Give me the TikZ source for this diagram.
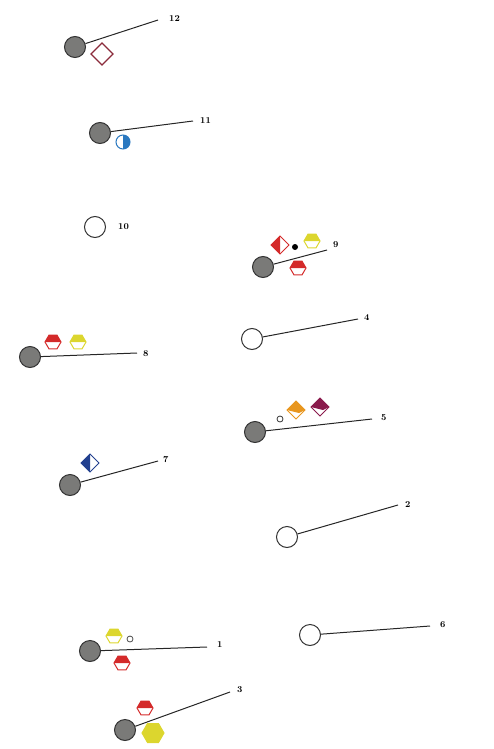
\documentclass[tikz,border=0pt]{standalone}
\usetikzlibrary{calc}
\definecolor{dotgray}{HTML}{7A7A78}
\definecolor{mred}{HTML}{D42A2A}
\definecolor{myel}{HTML}{DCD62E}
\definecolor{mblue}{HTML}{2A78C0}
\definecolor{dblue}{HTML}{22408F}
\definecolor{morange}{HTML}{E8961E}
\definecolor{mpurp}{HTML}{8A1A4C}
\definecolor{dred}{HTML}{8B2B3B}
\tikzset{
  graydot/.style={circle,draw=black!80,fill=dotgray,line width=1pt,minimum size=21pt,inner sep=0pt},
  whitedot/.style={circle,draw=black!80,fill=white,line width=1pt,minimum size=21pt,inner sep=0pt},
  stick/.style={line width=1pt,black!85},
  lab/.style={font=\fontsize{9}{10}\selectfont\bfseries,inner sep=1pt},
  hexT/.pic={
    \fill[#1] (8,0) -- (4,-6.9) -- (-4,-6.9) -- (-8,0) -- cycle;
    \draw[#1,line width=1pt] (8,0) -- (4,-6.9) -- (-4,-6.9) -- (-8,0) -- (-4,6.9) -- (4,6.9) -- cycle;
  },
  hexFull/.pic={
    \draw[#1,line width=1pt,fill=#1] (11,0) -- (5.5,-9.5) -- (-5.5,-9.5) -- (-11,0) -- (-5.5,9.5) -- (5.5,9.5) -- cycle;
  },
  diamL/.pic={
    \fill[#1] (0,-9) -- (-9,0) -- (0,9) -- cycle;
    \draw[#1,line width=1pt] (0,-9) -- (9,0) -- (0,9) -- (-9,0) -- cycle;
  },
  diamT/.pic={
    \fill[#1] (-9,0) -- (0,-9) -- (9,0) -- (3,3) -- cycle;
    \draw[#1,line width=1pt] (0,-9) -- (9,0) -- (0,9) -- (-9,0) -- cycle;
  },
  diamO/.pic={
    \draw[#1,line width=1.1pt,fill=white] (0,-11) -- (11,0) -- (0,11) -- (-11,0) -- cycle;
  },
  circR/.pic={
    \fill[white] (0,0) circle[radius=7];
    \begin{scope}
      \clip (0,-8) rectangle (8,8);
      \fill[#1] (0,0) circle[radius=7];
    \end{scope}
    \draw[#1,line width=1pt] (0,0) circle[radius=7];
  },
}
\begin{document}
\begin{tikzpicture}[x=1pt,y=-1pt]
\useasboundingbox (0,0) rectangle (494,749);
% 12
\pic at (102,54) {diamO=dred};
\node[graydot] (c12) at (75,47) {};
\coordinate (e12) at (158,20);
\node[lab,anchor=west] (l12) at (168,19) {12};
\draw[stick] (c12) -- (e12);
% 11
\pic at (123,142) {circR=mblue};
\node[graydot] (c11) at (100,133) {};
\coordinate (e11) at (193,121);
\node[lab,anchor=west] (l11) at (199,121) {11};
\draw[stick] (c11) -- (e11);
% 10
\node[whitedot] (c10) at (95,227) {};
\node[lab,anchor=west] (l10) at (117,227) {10};
% 9
\pic at (280,245) {diamL=mred};
\node[circle,fill=black,minimum size=6pt,inner sep=0pt] (d9) at (295,247) {};
\pic at (312,241) {hexT=myel};
\pic at (298,268) {hexT=mred};
\node[graydot] (c9) at (263,267) {};
\coordinate (e9) at (327,250);
\node[lab,anchor=west] (l9) at (332,245) {9};
\draw[stick] (c9) -- (e9);
% 8
\pic at (53,342) {hexT=mred};
\pic at (78,342) {hexT=myel};
\node[graydot] (c8) at (30,357) {};
\coordinate (e8) at (137,353);
\node[lab,anchor=west] (l8) at (142,354) {8};
\draw[stick] (c8) -- (e8);
% 4
\node[whitedot] (c4) at (252,339) {};
\coordinate (e4) at (358,319);
\node[lab,anchor=west] (l4) at (363,318) {4};
\draw[stick] (c4) -- (e4);
% 5
\node[circle,draw=black!80,fill=white,line width=0.8pt,minimum size=6pt,inner sep=0pt] (s5) at (280,419) {};
\pic at (296,410) {diamT=morange};
\pic at (320,407) {diamT=mpurp};
\node[graydot] (c5) at (255,432) {};
\coordinate (e5) at (372,419);
\node[lab,anchor=west] (l5) at (380,418) {5};
\draw[stick] (c5) -- (e5);
% 7
\pic at (90,463) {diamL=dblue};
\node[graydot] (c7) at (70,485) {};
\coordinate (e7) at (158,461);
\node[lab,anchor=west] (l7) at (162,460) {7};
\draw[stick] (c7) -- (e7);
% 2
\node[whitedot] (c2) at (287,537) {};
\coordinate (e2) at (398,505);
\node[lab,anchor=west] (l2) at (404,505) {2};
\draw[stick] (c2) -- (e2);
% 6
\node[whitedot] (c6) at (310,635) {};
\coordinate (e6) at (430,626);
\node[lab,anchor=west] (l6) at (439,625) {6};
\draw[stick] (c6) -- (e6);
% 1
\pic at (114,636) {hexT=myel};
\node[circle,draw=black!70,fill=white,line width=0.8pt,minimum size=6pt,inner sep=0pt] (s1) at (130,639) {};
\pic at (122,663) {hexT=mred};
\node[graydot] (c1) at (90,651) {};
\coordinate (e1) at (207,647);
\node[lab,anchor=west] (l1) at (216,645) {1};
\draw[stick] (c1) -- (e1);
% 3
\pic at (145,708) {hexT=mred};
\pic at (153,733) {hexFull=myel};
\node[graydot] (c3) at (125,730) {};
\coordinate (e3) at (230,692);
\node[lab,anchor=west] (l3) at (236,690) {3};
\draw[stick] (c3) -- (e3);
\end{tikzpicture}
\end{document}
